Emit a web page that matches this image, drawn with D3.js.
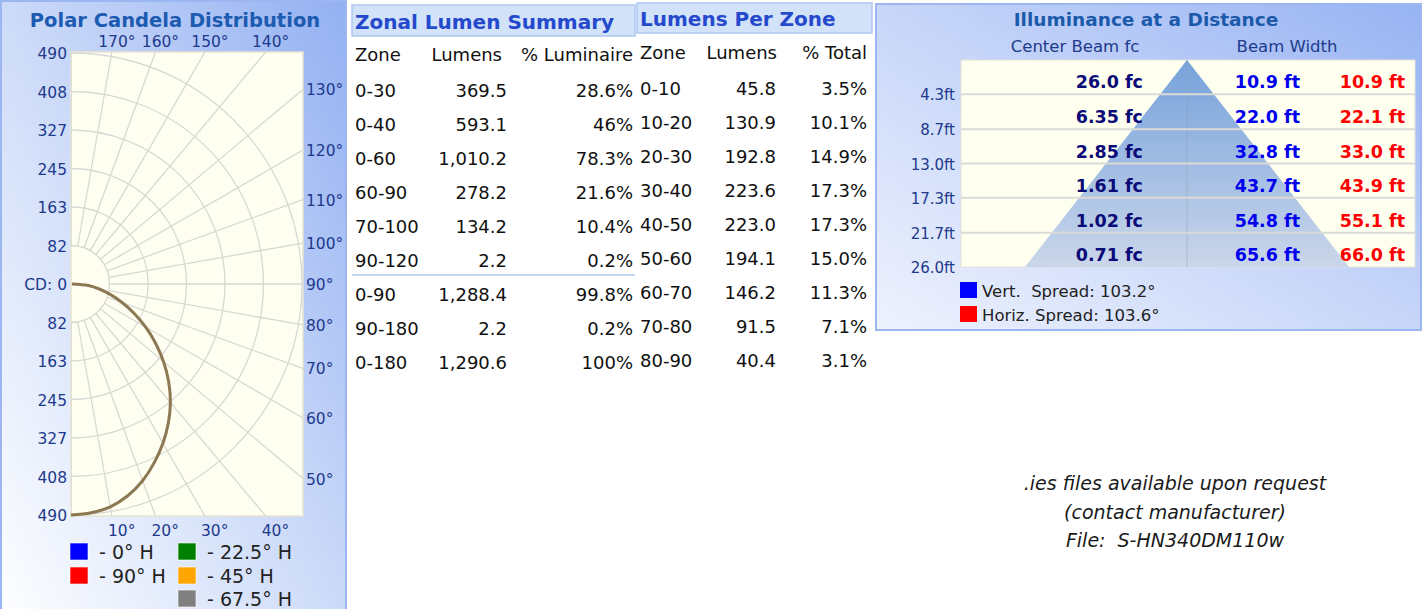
<!DOCTYPE html>
<html>
<head>
<meta charset="utf-8">
<script src="https://cdn.jsdelivr.net/npm/d3@7"></script>
<style>
  body { margin: 0; background: #fff; }
  text { font-family: "DejaVu Sans", Verdana, sans-serif; }
</style>
</head>
<body>
<svg width="1427" height="609"></svg>
<script>
// ---- data ----
var cdAngles = [0, 5, 10, 15, 20, 25, 30, 35, 40, 45, 50, 55, 60, 65, 70, 75, 80, 85, 90];
var cdValues = [490, 487, 480, 465, 444, 418, 390, 360, 328, 293, 256, 219, 183, 148, 116, 87, 61, 37, 2];
var cdMax = 490;
var ringCount = 6;
var topDegLabels = [170, 160, 150, 140];
var rightDegLabels = [130, 120, 110, 100, 90, 80, 70, 60, 50];
var bottomDegLabels = [10, 20, 30, 40];
var planeNames = ["- 0° H", "- 90° H", "- 22.5° H", "- 45° H", "- 67.5° H"];
var planeColors = ["#0000ff", "#ff0000", "#008000", "#ffa500", "#808080"];

var zonalZones = ["0-30", "0-40", "0-60", "60-90", "70-100", "90-120", "0-90", "90-180", "0-180"];
var zonalLumens = [369.5, 593.1, 1010.2, 278.2, 134.2, 2.2, 1288.4, 2.2, 1290.6];
var zonalPct = [28.6, 46, 78.3, 21.6, 10.4, 0.2, 99.8, 0.2, 100];

var zoneNames = ["0-10", "10-20", "20-30", "30-40", "40-50", "50-60", "60-70", "70-80", "80-90"];
var zoneLumens = [45.8, 130.9, 192.8, 223.6, 223.0, 194.1, 146.2, 91.5, 40.4];
var zonePct = [3.5, 10.1, 14.9, 17.3, 17.3, 15.0, 11.3, 7.1, 3.1];

var illumDist = [4.3, 8.7, 13.0, 17.3, 21.7, 26.0];
var illumFc = [26.0, 6.35, 2.85, 1.61, 1.02, 0.71];
var vertWidth = [10.9, 22.0, 32.8, 43.7, 54.8, 65.6];
var horizWidth = [10.9, 22.1, 33.0, 43.9, 55.1, 66.0];
var vertSpread = 103.2, horizSpread = 103.6;

var noteLines = [".ies files available upon request", "(contact manufacturer)", "File:  S-HN340DM110w"];

var svg = d3.select("svg");
var defs = svg.append("defs");

function panelGradient(id, light, mid, dark) {
    var g = defs.append("linearGradient").attr("id", id)
        .attr("x1", 0).attr("y1", 1).attr("x2", 1).attr("y2", 0);
    g.append("stop").attr("offset", 0).attr("stop-color", light);
    g.append("stop").attr("offset", 0.5).attr("stop-color", mid);
    g.append("stop").attr("offset", 1).attr("stop-color", dark);
}
panelGradient("polarBg", "#ffffff", "#cddbf9", "#93b0f2");
panelGradient("illumBg", "#eef2fd", "#c7d6f9", "#97b3f3");

var triGrad = defs.append("linearGradient").attr("id", "triGrad")
    .attr("x1", 0).attr("y1", 0).attr("x2", 0).attr("y2", 1);
triGrad.append("stop").attr("offset", 0).attr("stop-color", "#76a2db");
triGrad.append("stop").attr("offset", 1).attr("stop-color", "#cad6ea");

// ================= polar candela panel =================
svg.append("rect")
    .attr("x", 1).attr("y", 1).attr("width", 345).attr("height", 630)
    .attr("fill", "url(#polarBg)").attr("stroke", "#9bb6f1").attr("stroke-width", 2);

svg.append("text")
    .attr("x", 175).attr("y", 20)
    .attr("text-anchor", "middle").attr("dominant-baseline", "central")
    .attr("font-size", 19.5).attr("font-weight", "bold").attr("fill", "#1d5bb0")
    .text("Polar Candela Distribution");

var cx = 71, cy = 284, half = 232;
var r = d3.scaleLinear().domain([0, cdMax]).range([0, 231]);

function pt(deg, rad) {
    var t = deg * Math.PI / 180;
    return [cx + rad * Math.sin(t), cy + rad * Math.cos(t)];
}

defs.append("clipPath").attr("id", "plotClip")
    .append("rect").attr("x", cx).attr("y", cy - half).attr("width", half).attr("height", half * 2);

svg.append("rect")
    .attr("x", cx).attr("y", cy - half).attr("width", half).attr("height", half * 2)
    .attr("fill", "#fffff1").attr("stroke", "#e6e4d2").attr("stroke-width", 1.5);

var grid = svg.append("g").attr("clip-path", "url(#plotClip)")
    .attr("fill", "none").attr("stroke", "#d8d8d4").attr("stroke-width", 1.3);

var ringVals = d3.range(1, ringCount + 1).map(function (k) { return cdMax * k / ringCount; });
grid.selectAll("circle").data(ringVals).enter().append("circle")
    .attr("cx", cx).attr("cy", cy).attr("r", function (d) { return r(d); });

grid.selectAll("line").data(d3.range(0, 181, 10)).enter().append("line")
    .attr("x1", function (d) { return pt(d, r(ringVals[0]))[0]; })
    .attr("y1", function (d) { return pt(d, r(ringVals[0]))[1]; })
    .attr("x2", function (d) { return pt(d, 500)[0]; })
    .attr("y2", function (d) { return pt(d, 500)[1]; });

// candela curve
var curve = d3.line()
    .x(function (d, i) { return pt(cdAngles[i], r(d))[0]; })
    .y(function (d, i) { return pt(cdAngles[i], r(d))[1]; })
    .curve(d3.curveCatmullRom);
svg.append("path").datum(cdValues)
    .attr("d", curve)
    .attr("fill", "none").attr("stroke", "#8c7852").attr("stroke-width", 3);

// radial value labels
var cdFmt = d3.format(".0f");
var labelCol = "#1d3a8c";
var radLabels = [{ v: 0, y: cy, t: "CD: 0" }];
ringVals.forEach(function (v) {
    radLabels.push({ v: v, y: cy - r(v), t: cdFmt(v) });
    radLabels.push({ v: v, y: cy + r(v), t: cdFmt(v) });
});
svg.append("g").selectAll("text").data(radLabels).enter().append("text")
    .attr("x", 67).attr("y", function (d) { return d.y + 1; })
    .attr("text-anchor", "end").attr("dominant-baseline", "central")
    .attr("font-size", 15.5).attr("fill", labelCol)
    .text(function (d) { return d.t; });

// angle labels
var degG = svg.append("g").attr("font-size", 15.5).attr("fill", labelCol);
degG.selectAll(".top").data(topDegLabels).enter().append("text")
    .attr("x", function (d) { return cx + half * Math.tan((180 - d) * Math.PI / 180) + 5; })
    .attr("y", 42).attr("text-anchor", "middle").attr("dominant-baseline", "central")
    .text(function (d) { return d + "°"; });
degG.selectAll(".right").data(rightDegLabels).enter().append("text")
    .attr("x", 306)
    .attr("y", function (d) { return cy + half / Math.tan(d * Math.PI / 180) + 1; })
    .attr("dominant-baseline", "central")
    .text(function (d) { return d + "°"; });
degG.selectAll(".bottom").data(bottomDegLabels).enter().append("text")
    .attr("x", function (d) { return cx + half * Math.tan(d * Math.PI / 180) - 4; })
    .attr("y", 531).attr("dominant-baseline", "central")
    .text(function (d) { return d + "°"; });

// plane legend
var legPos = [[70, 543], [70, 567], [178, 543], [178, 567], [178, 590]];
var leg = svg.append("g").selectAll("g").data(planeNames).enter().append("g")
    .attr("transform", function (d, i) { return "translate(" + legPos[i][0] + "," + legPos[i][1] + ")"; });
leg.append("rect").attr("width", 18).attr("height", 17)
    .attr("fill", function (d, i) { return planeColors[i]; })
    .attr("stroke", "#ffffff").attr("stroke-opacity", 0.6);
leg.append("text").attr("x", 29).attr("y", 9)
    .attr("dominant-baseline", "central").attr("font-size", 19).attr("fill", "#222")
    .text(function (d) { return d; });

// ================= tables =================
function headerBar(x, y, w, h, title) {
    svg.append("rect").attr("x", x).attr("y", y).attr("width", w).attr("height", h)
        .attr("fill", "#d2e2f9").attr("stroke", "#adc7ef").attr("stroke-width", 1.5);
    svg.append("text").attr("x", x + 3).attr("y", y + h / 2 + 1)
        .attr("dominant-baseline", "central").attr("font-size", 20).attr("font-weight", "bold")
        .attr("fill", "#2549cc").text(title);
}
headerBar(352, 5, 283, 31, "Zonal Lumen Summary");
headerBar(637, 3, 235, 30, "Lumens Per Zone");

var tableFont = 18, tableCol = "#101010";
function cell(x, y, anchor, t) {
    svg.append("text").attr("x", x).attr("y", y)
        .attr("text-anchor", anchor).attr("dominant-baseline", "central")
        .attr("font-size", tableFont).attr("fill", tableCol).text(t);
}

// zonal summary
var lumFmt = d3.format(",.1f");
var zonalY = d3.scalePoint().domain(d3.range(6)).range([90, 260]);
var zonalY2 = d3.scalePoint().domain(d3.range(3)).range([294, 362]);
cell(355, 54, "start", "Zone");
cell(502, 54, "end", "Lumens");
cell(633, 54, "end", "% Luminaire");
zonalZones.forEach(function (z, i) {
    var y = i < 6 ? zonalY(i) : zonalY2(i - 6);
    cell(355, y, "start", z);
    cell(507, y, "end", lumFmt(zonalLumens[i]));
    cell(633, y, "end", zonalPct[i] + "%");
});
svg.append("line").attr("x1", 352).attr("x2", 635).attr("y1", 275).attr("y2", 275)
    .attr("stroke", "#c3d5f1").attr("stroke-width", 2);

// lumens per zone
var pzY = d3.scalePoint().domain(d3.range(zoneNames.length)).range([88, 360]);
cell(640, 52, "start", "Zone");
cell(777, 52, "end", "Lumens");
cell(867, 52, "end", "% Total");
zoneNames.forEach(function (z, i) {
    cell(640, pzY(i), "start", z);
    cell(776, pzY(i), "end", zoneLumens[i].toFixed(1));
    cell(867, pzY(i), "end", zonePct[i].toFixed(1) + "%");
});

// ================= illuminance panel =================
svg.append("rect")
    .attr("x", 876).attr("y", 4).attr("width", 545).attr("height", 326)
    .attr("fill", "url(#illumBg)").attr("stroke", "#9bb6f1").attr("stroke-width", 2);

svg.append("text").attr("x", 1146).attr("y", 19)
    .attr("text-anchor", "middle").attr("dominant-baseline", "central")
    .attr("font-size", 18.5).attr("font-weight", "bold").attr("fill", "#1b5aab")
    .text("Illuminance at a Distance");
svg.append("text").attr("x", 1075).attr("y", 46)
    .attr("text-anchor", "middle").attr("dominant-baseline", "central")
    .attr("font-size", 16.5).attr("fill", "#1d3a8c").text("Center Beam fc");
svg.append("text").attr("x", 1287).attr("y", 46)
    .attr("text-anchor", "middle").attr("dominant-baseline", "central")
    .attr("font-size", 16.5).attr("fill", "#1d3a8c").text("Beam Width");

var yD = d3.scaleLinear().domain([0, d3.max(illumDist)]).range([60, 267]);
var areaX0 = 961, areaX1 = 1415, apexX = 1187, baseHalf = 162;

svg.append("rect").attr("x", areaX0).attr("y", yD(0))
    .attr("width", areaX1 - areaX0).attr("height", yD(26) - yD(0))
    .attr("fill", "#fffff0").attr("stroke", "#e2e2d8");

svg.append("path")
    .attr("d", "M" + apexX + "," + yD(0) + "L" + (apexX - baseHalf) + "," + yD(26) +
        "L" + (apexX + baseHalf) + "," + yD(26) + "Z")
    .attr("fill", "url(#triGrad)");

svg.append("line").attr("x1", apexX).attr("x2", apexX).attr("y1", yD(0)).attr("y2", yD(26))
    .attr("stroke", "#8d9bb0").attr("stroke-opacity", 0.45);

svg.append("g").selectAll("line").data(illumDist.slice(0, -1)).enter().append("line")
    .attr("x1", areaX0).attr("x2", areaX1)
    .attr("y1", function (d) { return yD(d); }).attr("y2", function (d) { return yD(d); })
    .attr("stroke", "#dadad6").attr("stroke-width", 2);

svg.append("g").selectAll("text").data(illumDist).enter().append("text")
    .attr("x", 955).attr("y", function (d) { return yD(d) + 1; })
    .attr("text-anchor", "end").attr("dominant-baseline", "central")
    .attr("font-size", 15).attr("fill", "#1d3a8c")
    .text(function (d) { return d.toFixed(1) + "ft"; });

function fcFmt(v) { return (v >= 10 ? v.toFixed(1) : v.toFixed(2)) + " fc"; }
var rows = svg.append("g").attr("font-size", 17.5).attr("font-weight", "bold");
illumDist.forEach(function (d, i) {
    var y = yD(d) - 12;
    rows.append("text").attr("x", 1143).attr("y", y).attr("text-anchor", "end")
        .attr("dominant-baseline", "central").attr("fill", "#0a0a78").text(fcFmt(illumFc[i]));
    rows.append("text").attr("x", 1300).attr("y", y).attr("text-anchor", "end")
        .attr("dominant-baseline", "central").attr("fill", "#0000ee").text(vertWidth[i].toFixed(1) + " ft");
    rows.append("text").attr("x", 1405).attr("y", y).attr("text-anchor", "end")
        .attr("dominant-baseline", "central").attr("fill", "#ff0000").text(horizWidth[i].toFixed(1) + " ft");
});

var spreadLeg = [["#0000ff", "Vert.  Spread: " + vertSpread + "°"], ["#ff0000", "Horiz. Spread: " + horizSpread + "°"]];
var sl = svg.append("g").selectAll("g").data(spreadLeg).enter().append("g")
    .attr("transform", function (d, i) { return "translate(960," + (282 + i * 24) + ")"; });
sl.append("rect").attr("width", 17).attr("height", 16).attr("fill", function (d) { return d[0]; });
sl.append("text").attr("x", 22).attr("y", 9).attr("dominant-baseline", "central")
    .attr("font-size", 16.5).attr("fill", "#222").style("white-space", "pre")
    .text(function (d) { return d[1]; });

// ================= footnote =================
svg.append("g").selectAll("text").data(noteLines).enter().append("text")
    .attr("x", 1175).attr("y", function (d, i) { return 483 + i * 28.5; })
    .attr("text-anchor", "middle").attr("dominant-baseline", "central")
    .attr("font-family", "'Open Sans', 'Liberation Sans', sans-serif")
    .attr("font-style", "italic").attr("font-size", 19).attr("fill", "#1a1a1a")
    .style("white-space", "pre")
    .text(function (d) { return d; });
</script>
</body>
</html>
